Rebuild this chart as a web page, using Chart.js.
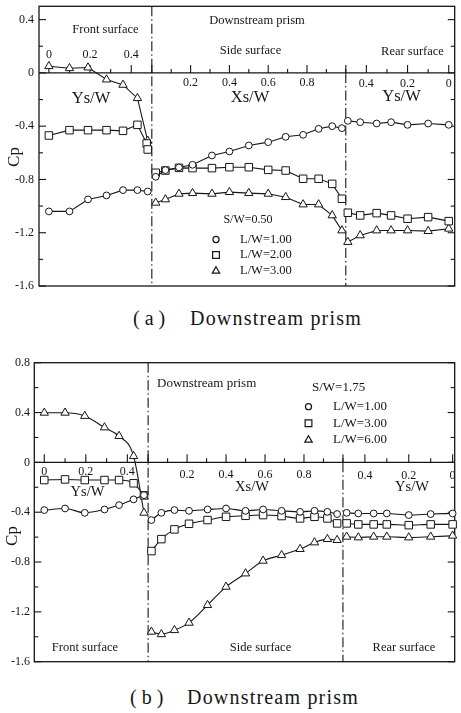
<!DOCTYPE html>
<html>
<head>
<meta charset="utf-8">
<script src="https://cdn.jsdelivr.net/npm/chart.js@4.4.1/dist/chart.umd.min.js"></script>
<style>
  html, body { margin: 0; padding: 0; background: #fff; }
  body { width: 461px; height: 713px; position: relative; overflow: hidden;
         font-family: "Liberation Serif", "DejaVu Serif", serif; color: #161616; }
  .wrap { position: absolute; left: 0; width: 461px; }
  #wa { top: 0; height: 300px; }
  #wb { top: 340px; height: 340px; }
  .cap { position: absolute; font-size: 20px; line-height: 24px; white-space: nowrap; }
  .cap .tag { position: absolute; left: 0; }
  .cap .txt { position: absolute; letter-spacing: 1.2px; }
</style>
</head>
<body>
<div class="wrap" id="wa"><canvas id="ca"></canvas></div>
<div class="cap" style="left:133px; top:306px;"><span class="tag">( a )</span><span class="txt" style="left:57px">Downstream prism</span></div>
<div class="wrap" id="wb"><canvas id="cb"></canvas></div>
<div class="cap" style="left:130px; top:685px;"><span class="tag">( b )</span><span class="txt" style="left:57px">Downstream prism</span></div>

<script>
// ---------------- (a) S/W = 0.50 ----------------
const A_FRONT_YS     = [0, 0.1, 0.19, 0.28, 0.36, 0.43, 0.48];
const A_FRONT_LW1    = [-1.04, -1.04, -0.95, -0.92, -0.88, -0.88, -0.89];
const A_FRONT_LW2_YS = [0, 0.1, 0.19, 0.28, 0.36, 0.43, 0.475, 0.48];
const A_FRONT_LW2    = [-0.47, -0.43, -0.43, -0.43, -0.435, -0.39, -0.53, -0.575];
const A_FRONT_LW3    = [0.05, 0.035, 0.04, -0.05, -0.09, -0.19, -0.51];

const A_SIDE_XS  = [0.02, 0.07, 0.14, 0.21, 0.31, 0.4, 0.5, 0.6, 0.69, 0.78, 0.86, 0.93, 0.98];
const A_SIDE_LW1 = [-0.78, -0.73, -0.71, -0.69, -0.62, -0.59, -0.545, -0.52, -0.48, -0.465, -0.42, -0.40, -0.415];
const A_SIDE_LW2 = [-0.75, -0.733, -0.713, -0.715, -0.715, -0.708, -0.708, -0.728, -0.733, -0.795, -0.795, -0.833, -0.945];
const A_SIDE_LW3 = [-0.975, -0.95, -0.908, -0.903, -0.908, -0.895, -0.903, -0.908, -0.933, -0.988, -0.988, -1.07, -1.183];

const A_REAR_YS  = [0.49, 0.43, 0.35, 0.28, 0.2, 0.1, 0];
const A_REAR_LW1 = [-0.36, -0.37, -0.38, -0.37, -0.39, -0.38, -0.39];
const A_REAR_LW2 = [-1.05, -1.07, -1.053, -1.07, -1.095, -1.083, -1.113];
const A_REAR_LW3 = [-1.27, -1.22, -1.183, -1.183, -1.183, -1.188, -1.17];

// ---------------- (b) S/W = 1.75 ----------------
const B_FRONT_YS  = [0, 0.1, 0.195, 0.29, 0.36, 0.43, 0.48];
const B_FRONT_LW1 = [-0.383, -0.37, -0.405, -0.378, -0.343, -0.297, -0.263];
const B_FRONT_LW3 = [-0.142, -0.137, -0.142, -0.142, -0.142, -0.168, -0.265];
const B_FRONT_LW6 = [0.398, 0.398, 0.372, 0.28, 0.211, 0.05, -0.405];

const B_SIDE_XS  = [0.017, 0.068, 0.135, 0.21, 0.305, 0.4, 0.5, 0.59, 0.685, 0.78, 0.854, 0.92, 0.97];
const B_SIDE_LW1 = [-0.463, -0.405, -0.383, -0.389, -0.378, -0.37, -0.389, -0.378, -0.389, -0.397, -0.389, -0.397, -0.415];
const B_SIDE_LW3 = [-0.712, -0.616, -0.538, -0.493, -0.463, -0.437, -0.429, -0.423, -0.431, -0.45, -0.437, -0.45, -0.49];
const B_SIDE_LW6 = [-1.36, -1.38, -1.347, -1.288, -1.146, -0.999, -0.892, -0.79, -0.745, -0.696, -0.643, -0.616, -0.624];

const B_REAR_YS  = [0.483, 0.43, 0.36, 0.3, 0.2, 0.1, 0];
const B_REAR_LW1 = [-0.405, -0.41, -0.41, -0.41, -0.423, -0.415, -0.41];
const B_REAR_LW3 = [-0.49, -0.498, -0.498, -0.498, -0.504, -0.498, -0.498];
const B_REAR_LW6 = [-0.597, -0.603, -0.597, -0.597, -0.603, -0.597, -0.589];

// Tick labels
const FRONT_TICKS = [0, 0.2, 0.4];
const SIDE_TICKS  = [0.2, 0.4, 0.6, 0.8];
const REAR_TICKS  = [0.4, 0.2, 0];
const A_Y_TICKS   = [0.4, 0, -0.4, -0.8, -1.2, -1.6];
const B_Y_TICKS   = [0.8, 0.4, 0, -0.4, -0.8, -1.2, -1.6];

const A_LEGEND = ['L/W=1.00', 'L/W=2.00', 'L/W=3.00'];
const B_LEGEND = ['L/W=1.00', 'L/W=3.00', 'L/W=6.00'];

// ---------------------------------------------------------------
const INK = '#161616';
const SERIF = '"Liberation Serif", "DejaVu Serif", serif';

// The three faces are laid end to end along one x axis:
// front (Ys/W 0 -> 0.5), side (Xs/W 0 -> 1), rear (Ys/W 0.5 -> 0).
const LAYOUT_A = { front: 0.5, side: 0.942, rear: 0.5,   min: -0.048, max: 1.971 };
const LAYOUT_B = { front: 0.5, side: 0.938, rear: 0.528, min: -0.048, max: 1.976 };

function pos(L, face, v) {
  if (face === 'front') return v * L.front / 0.5;
  if (face === 'side') return L.front + v * L.side;
  return L.front + L.side + (0.5 - v) * L.rear / 0.5;
}

function path(L, faces) {
  const pts = [];
  faces.forEach(([face, xs, ys], i) => {
    if (i > 0) pts.push({ x: pos(L, face, face === 'side' ? 0 : 0.5), y: null });
    xs.forEach((v, k) => pts.push({ x: pos(L, face, v), y: ys[k] }));
  });
  return pts;
}

const MARKS = [
  { pointStyle: 'circle',   pointRadius: 3.4 },
  { pointStyle: 'rect',     pointRadius: 5.3 },
  { pointStyle: 'triangle', pointRadius: 4.8 },
];

function dataset(label, data, mark, smooth) {
  return Object.assign({
    label, data,
    borderColor: INK, borderWidth: 1.1,
    pointBackgroundColor: '#fff', pointBorderColor: INK, pointBorderWidth: 1,
    spanGaps: false,
    tension: 0,
    cubicInterpolationMode: smooth ? 'monotone' : 'default',
  }, mark);
}

function drawText(ctx, t) {
  ctx.save();
  ctx.font = (t.weight || '') + ' ' + t.size + 'px ' + SERIF;
  ctx.fillStyle = INK;
  ctx.textAlign = t.align || 'center';
  ctx.textBaseline = 'middle';
  ctx.translate(t.x, t.y);
  if (t.rot) ctx.rotate(t.rot);
  ctx.fillText(t.t, 0, 0);
  ctx.restore();
}

function decor(spec) {
  const L = spec.layout;
  return {
    id: 'decor',
    beforeDatasetsDraw(chart) {
      const { ctx, chartArea: a, scales: { x, y } } = chart;
      const seg = (x1, y1, x2, y2) => { ctx.beginPath(); ctx.moveTo(x1, y1); ctx.lineTo(x2, y2); ctx.stroke(); };
      ctx.save();
      ctx.strokeStyle = INK;
      ctx.lineWidth = 1.3;
      ctx.strokeRect(a.left, a.top, a.right - a.left, a.bottom - a.top);

      // Cp ticks, inward on both sides
      ctx.lineWidth = 1.1;
      for (let k = 0; spec.yMin + k * 0.2 <= spec.yMax + 1e-9; k++) {
        const py = y.getPixelForValue(spec.yMin + k * 0.2);
        const len = k % 2 === 0 ? 7 : 4;
        seg(a.left, py, a.left + len, py);
        seg(a.right - len, py, a.right, py);
      }

      // Cp = 0 line carrying the position ticks
      const y0 = y.getPixelForValue(0);
      ctx.lineWidth = 1.2;
      seg(a.left, y0, a.right, y0);
      ctx.lineWidth = 1.1;
      const faceTicks = [['front', 5], ['side', 10], ['rear', 5]];
      faceTicks.forEach(([face, n]) => {
        for (let k = 0; k <= n; k++) {
          const px = x.getPixelForValue(pos(L, face, k * 0.1));
          seg(px, y0, px, y0 - (k % 2 === 0 ? 8 : 4));
        }
      });

      // face boundaries: front/side edge runs the full height, side/rear edge starts at Cp = 0
      ctx.setLineDash([10, 3, 1.5, 3]);
      const px1 = x.getPixelForValue(pos(L, 'side', 0));
      seg(px1, a.top, px1, a.bottom);
      const px2 = x.getPixelForValue(pos(L, 'rear', 0.5));
      seg(px2, y0, px2, a.bottom);
      ctx.restore();
    },
    afterDraw(chart) {
      const { ctx, scales: { x, y } } = chart;
      const y0 = y.getPixelForValue(0);
      // Cp tick labels
      spec.yTicks.forEach(v => drawText(ctx, { t: String(v), x: spec.yLabelRight, y: y.getPixelForValue(v), size: 12, align: 'right' }));
      // position tick labels
      [['front', FRONT_TICKS], ['side', SIDE_TICKS], ['rear', REAR_TICKS]].forEach(([face, vals]) => {
        vals.forEach(v => drawText(ctx, { t: String(v), x: x.getPixelForValue(pos(L, face, v)), y: y0 + spec.tickDy[face], size: 12 }));
      });
      spec.texts.forEach(t => drawText(ctx, t));
      // legend
      const lg = spec.legend;
      drawText(ctx, lg.head);
      chart.data.datasets.forEach((ds, i) => {
        const ry = lg.rowY[i];
        ctx.save();
        ctx.fillStyle = '#fff';
        ctx.strokeStyle = INK;
        ctx.lineWidth = 1.2;
        Chart.helpers.drawPoint(ctx, { pointStyle: ds.pointStyle, radius: ds.pointRadius * 0.9, rotation: 0, borderWidth: 1.2 }, lg.markX, ry);
        ctx.restore();
        drawText(ctx, { t: spec.legendLabels[i], x: lg.textX, y: ry, size: lg.size, align: 'left' });
      });
    }
  };
}

function build(canvasId, spec, datasets, padding) {
  return new Chart(document.getElementById(canvasId), {
    type: 'line',
    data: { datasets },
    options: {
      responsive: true, maintainAspectRatio: false, animation: false,
      layout: { padding },
      clip: false,
      plugins: { legend: { display: false }, tooltip: { enabled: false } },
      scales: {
        x: { type: 'linear', min: spec.layout.min, max: spec.layout.max, display: false },
        y: { type: 'linear', min: spec.yMin, max: spec.yMax, display: false },
      },
    },
    plugins: [decor(spec)],
  });
}

// ---------------- chart (a) ----------------
const specA = {
  layout: LAYOUT_A, yMin: -1.6, yMax: 0.5, yTicks: A_Y_TICKS, yLabelRight: 34,
  tickDy: { front: -18, side: 9.5, rear: 10.5 },
  legendLabels: A_LEGEND,
  legend: { head: { t: 'S/W=0.50', x: 248, y: 220, size: 12 }, markX: 216, textX: 240, rowY: [239.5, 255, 271], size: 12.5 },
  texts: [
    { t: 'Front surface', x: 105.5, y: 29.5, size: 12.5 },
    { t: 'Downstream prism', x: 257, y: 20.5, size: 12.5 },
    { t: 'Side surface', x: 250.5, y: 50.5, size: 12.5 },
    { t: 'Rear surface', x: 412.5, y: 52, size: 12.5 },
    { t: 'Ys/W', x: 91, y: 98.5, size: 16.5 },
    { t: 'Xs/W', x: 250, y: 97.5, size: 16.5 },
    { t: 'Ys/W', x: 401.5, y: 97, size: 16.5 },
    { t: 'Cp', x: 15, y: 157, size: 17, rot: -Math.PI / 2 },
  ],
};
build('ca', specA, [
  dataset('L/W=1.00', path(LAYOUT_A, [['front', A_FRONT_YS, A_FRONT_LW1], ['side', A_SIDE_XS, A_SIDE_LW1], ['rear', A_REAR_YS, A_REAR_LW1]]), MARKS[0], false),
  dataset('L/W=2.00', path(LAYOUT_A, [['front', A_FRONT_LW2_YS, A_FRONT_LW2], ['side', A_SIDE_XS, A_SIDE_LW2], ['rear', A_REAR_YS, A_REAR_LW2]]), MARKS[1], false),
  dataset('L/W=3.00', path(LAYOUT_A, [['front', A_FRONT_YS, A_FRONT_LW3], ['side', A_SIDE_XS, A_SIDE_LW3], ['rear', A_REAR_YS, A_REAR_LW3]]), MARKS[2], false),
], { left: 39, top: 6, right: 2, bottom: 14 });

// ---------------- chart (b) ----------------
const specB = {
  layout: LAYOUT_B, yMin: -1.6, yMax: 0.8, yTicks: B_Y_TICKS, yLabelRight: 30,
  tickDy: { front: 9.5, side: 12.5, rear: 13.5 },
  legendLabels: B_LEGEND,
  legend: { head: { t: 'S/W=1.75', x: 312, y: 47.5, size: 13, align: 'left' }, markX: 308.5, textX: 333, rowY: [66.7, 83.3, 100], size: 13 },
  texts: [
    { t: 'Downstream prism', x: 157, y: 43.5, size: 13, align: 'left' },
    { t: 'Ys/W', x: 87.5, y: 152, size: 14.5 },
    { t: 'Xs/W', x: 252, y: 147, size: 14.5 },
    { t: 'Ys/W', x: 412, y: 147, size: 14.5 },
    { t: 'Front surface', x: 85, y: 308, size: 12.5 },
    { t: 'Side surface', x: 260.5, y: 308, size: 12.5 },
    { t: 'Rear surface', x: 404, y: 308, size: 12.5 },
    { t: 'Cp', x: 13, y: 196, size: 17, rot: -Math.PI / 2 },
  ],
};
build('cb', specB, [
  dataset('L/W=1.00', path(LAYOUT_B, [['front', B_FRONT_YS, B_FRONT_LW1], ['side', B_SIDE_XS, B_SIDE_LW1], ['rear', B_REAR_YS, B_REAR_LW1]]), MARKS[0], true),
  dataset('L/W=3.00', path(LAYOUT_B, [['front', B_FRONT_YS, B_FRONT_LW3], ['side', B_SIDE_XS, B_SIDE_LW3], ['rear', B_REAR_YS, B_REAR_LW3]]), MARKS[1], true),
  dataset('L/W=6.00', path(LAYOUT_B, [['front', B_FRONT_YS, B_FRONT_LW6], ['side', B_SIDE_XS, B_SIDE_LW6], ['rear', B_REAR_YS, B_REAR_LW6]]), MARKS[2], true),
], { left: 34.3, top: 22.7, right: 1.5, bottom: 18.3 });
</script>
</body>
</html>
